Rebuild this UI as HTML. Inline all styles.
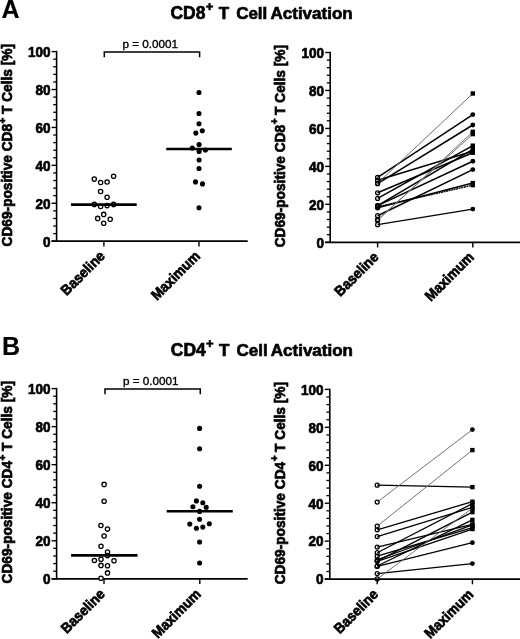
<!DOCTYPE html>
<html><head><meta charset="utf-8"><style>
html,body{margin:0;padding:0;background:#fff;}
svg{display:block;will-change:transform;}
text{font-family:"Liberation Sans",sans-serif;stroke:#000;stroke-width:0.65px;paint-order:stroke;}
</style></head><body>
<svg width="520" height="639" viewBox="0 0 520 639">
<rect width="520" height="639" fill="#fff"/>
<text x="1.4" y="17.8" font-size="25" font-weight="bold" style="stroke-width:0.15px" font-family="'Liberation Sans', sans-serif">A</text>
<text x="2.0" y="354.7" font-size="25" font-weight="bold" style="stroke-width:0.15px" font-family="'Liberation Sans', sans-serif">B</text>
<text x="170.50" y="18.7" font-size="17.45" font-weight="bold" font-family="'Liberation Sans', sans-serif">CD8</text>
<text x="218.75" y="18.7" font-size="17" font-weight="bold" font-family="'Liberation Sans', sans-serif">T</text>
<text x="236.15" y="18.7" font-size="17" font-weight="bold" font-family="'Liberation Sans', sans-serif">Cell</text>
<text x="270.50" y="18.7" font-size="17" font-weight="bold" font-family="'Liberation Sans', sans-serif">Activation</text>
<text x="205.75" y="10.50" font-size="13" font-weight="bold" font-family="'Liberation Sans', sans-serif">+</text>
<text x="170.80" y="355.9" font-size="17.45" font-weight="bold" font-family="'Liberation Sans', sans-serif">CD4</text>
<text x="219.05" y="355.9" font-size="17" font-weight="bold" font-family="'Liberation Sans', sans-serif">T</text>
<text x="236.45" y="355.9" font-size="17" font-weight="bold" font-family="'Liberation Sans', sans-serif">Cell</text>
<text x="270.80" y="355.9" font-size="17" font-weight="bold" font-family="'Liberation Sans', sans-serif">Activation</text>
<text x="206.05" y="347.70" font-size="13" font-weight="bold" font-family="'Liberation Sans', sans-serif">+</text>
<line x1="56.6" y1="50.85" x2="56.6" y2="241.95" stroke="#000" stroke-width="1.6"/>
<line x1="51.6" y1="241.20" x2="56.6" y2="241.20" stroke="#000" stroke-width="1.4"/>
<text transform="translate(50.40,246.50) scale(1,1.07)" text-anchor="end" font-size="13.5" font-weight="bold" font-family="'Liberation Sans', sans-serif">0</text>
<line x1="53.2" y1="233.62" x2="56.6" y2="233.62" stroke="#000" stroke-width="1.3"/>
<line x1="53.2" y1="226.03" x2="56.6" y2="226.03" stroke="#000" stroke-width="1.3"/>
<line x1="53.2" y1="218.45" x2="56.6" y2="218.45" stroke="#000" stroke-width="1.3"/>
<line x1="53.2" y1="210.86" x2="56.6" y2="210.86" stroke="#000" stroke-width="1.3"/>
<line x1="51.6" y1="203.28" x2="56.6" y2="203.28" stroke="#000" stroke-width="1.4"/>
<text transform="translate(50.40,208.58) scale(1,1.07)" text-anchor="end" font-size="13.5" font-weight="bold" font-family="'Liberation Sans', sans-serif">20</text>
<line x1="53.2" y1="195.70" x2="56.6" y2="195.70" stroke="#000" stroke-width="1.3"/>
<line x1="53.2" y1="188.11" x2="56.6" y2="188.11" stroke="#000" stroke-width="1.3"/>
<line x1="53.2" y1="180.53" x2="56.6" y2="180.53" stroke="#000" stroke-width="1.3"/>
<line x1="53.2" y1="172.94" x2="56.6" y2="172.94" stroke="#000" stroke-width="1.3"/>
<line x1="51.6" y1="165.36" x2="56.6" y2="165.36" stroke="#000" stroke-width="1.4"/>
<text transform="translate(50.40,170.66) scale(1,1.07)" text-anchor="end" font-size="13.5" font-weight="bold" font-family="'Liberation Sans', sans-serif">40</text>
<line x1="53.2" y1="157.78" x2="56.6" y2="157.78" stroke="#000" stroke-width="1.3"/>
<line x1="53.2" y1="150.19" x2="56.6" y2="150.19" stroke="#000" stroke-width="1.3"/>
<line x1="53.2" y1="142.61" x2="56.6" y2="142.61" stroke="#000" stroke-width="1.3"/>
<line x1="53.2" y1="135.02" x2="56.6" y2="135.02" stroke="#000" stroke-width="1.3"/>
<line x1="51.6" y1="127.44" x2="56.6" y2="127.44" stroke="#000" stroke-width="1.4"/>
<text transform="translate(50.40,132.74) scale(1,1.07)" text-anchor="end" font-size="13.5" font-weight="bold" font-family="'Liberation Sans', sans-serif">60</text>
<line x1="53.2" y1="119.86" x2="56.6" y2="119.86" stroke="#000" stroke-width="1.3"/>
<line x1="53.2" y1="112.27" x2="56.6" y2="112.27" stroke="#000" stroke-width="1.3"/>
<line x1="53.2" y1="104.69" x2="56.6" y2="104.69" stroke="#000" stroke-width="1.3"/>
<line x1="53.2" y1="97.10" x2="56.6" y2="97.10" stroke="#000" stroke-width="1.3"/>
<line x1="51.6" y1="89.52" x2="56.6" y2="89.52" stroke="#000" stroke-width="1.4"/>
<text transform="translate(50.40,94.82) scale(1,1.07)" text-anchor="end" font-size="13.5" font-weight="bold" font-family="'Liberation Sans', sans-serif">80</text>
<line x1="53.2" y1="81.94" x2="56.6" y2="81.94" stroke="#000" stroke-width="1.3"/>
<line x1="53.2" y1="74.35" x2="56.6" y2="74.35" stroke="#000" stroke-width="1.3"/>
<line x1="53.2" y1="66.77" x2="56.6" y2="66.77" stroke="#000" stroke-width="1.3"/>
<line x1="53.2" y1="59.18" x2="56.6" y2="59.18" stroke="#000" stroke-width="1.3"/>
<line x1="51.6" y1="51.60" x2="56.6" y2="51.60" stroke="#000" stroke-width="1.4"/>
<text transform="translate(50.40,56.90) scale(1,1.07)" text-anchor="end" font-size="13.5" font-weight="bold" font-family="'Liberation Sans', sans-serif">100</text>
<line x1="51.6" y1="241.2" x2="247.7" y2="241.2" stroke="#000" stroke-width="1.8"/>
<line x1="103.9" y1="241.2" x2="103.9" y2="246.39999999999998" stroke="#000" stroke-width="1.4"/>
<line x1="199.0" y1="241.2" x2="199.0" y2="246.39999999999998" stroke="#000" stroke-width="1.4"/>
<text transform="translate(105.80,256.90) rotate(-45) scale(1,1.07)" text-anchor="end" font-size="13.5" font-weight="bold" font-family="'Liberation Sans', sans-serif">Baseline</text>
<text transform="translate(200.90,256.90) rotate(-45) scale(1,1.07)" text-anchor="end" font-size="13.5" font-weight="bold" font-family="'Liberation Sans', sans-serif">Maximum</text>
<line x1="330.2" y1="51.75" x2="330.2" y2="243.05" stroke="#000" stroke-width="1.6"/>
<line x1="325.2" y1="242.30" x2="330.2" y2="242.30" stroke="#000" stroke-width="1.4"/>
<text transform="translate(324.00,247.60) scale(1,1.07)" text-anchor="end" font-size="13.5" font-weight="bold" font-family="'Liberation Sans', sans-serif">0</text>
<line x1="326.8" y1="234.71" x2="330.2" y2="234.71" stroke="#000" stroke-width="1.3"/>
<line x1="326.8" y1="227.12" x2="330.2" y2="227.12" stroke="#000" stroke-width="1.3"/>
<line x1="326.8" y1="219.52" x2="330.2" y2="219.52" stroke="#000" stroke-width="1.3"/>
<line x1="326.8" y1="211.93" x2="330.2" y2="211.93" stroke="#000" stroke-width="1.3"/>
<line x1="325.2" y1="204.34" x2="330.2" y2="204.34" stroke="#000" stroke-width="1.4"/>
<text transform="translate(324.00,209.64) scale(1,1.07)" text-anchor="end" font-size="13.5" font-weight="bold" font-family="'Liberation Sans', sans-serif">20</text>
<line x1="326.8" y1="196.75" x2="330.2" y2="196.75" stroke="#000" stroke-width="1.3"/>
<line x1="326.8" y1="189.16" x2="330.2" y2="189.16" stroke="#000" stroke-width="1.3"/>
<line x1="326.8" y1="181.56" x2="330.2" y2="181.56" stroke="#000" stroke-width="1.3"/>
<line x1="326.8" y1="173.97" x2="330.2" y2="173.97" stroke="#000" stroke-width="1.3"/>
<line x1="325.2" y1="166.38" x2="330.2" y2="166.38" stroke="#000" stroke-width="1.4"/>
<text transform="translate(324.00,171.68) scale(1,1.07)" text-anchor="end" font-size="13.5" font-weight="bold" font-family="'Liberation Sans', sans-serif">40</text>
<line x1="326.8" y1="158.79" x2="330.2" y2="158.79" stroke="#000" stroke-width="1.3"/>
<line x1="326.8" y1="151.20" x2="330.2" y2="151.20" stroke="#000" stroke-width="1.3"/>
<line x1="326.8" y1="143.60" x2="330.2" y2="143.60" stroke="#000" stroke-width="1.3"/>
<line x1="326.8" y1="136.01" x2="330.2" y2="136.01" stroke="#000" stroke-width="1.3"/>
<line x1="325.2" y1="128.42" x2="330.2" y2="128.42" stroke="#000" stroke-width="1.4"/>
<text transform="translate(324.00,133.72) scale(1,1.07)" text-anchor="end" font-size="13.5" font-weight="bold" font-family="'Liberation Sans', sans-serif">60</text>
<line x1="326.8" y1="120.83" x2="330.2" y2="120.83" stroke="#000" stroke-width="1.3"/>
<line x1="326.8" y1="113.24" x2="330.2" y2="113.24" stroke="#000" stroke-width="1.3"/>
<line x1="326.8" y1="105.64" x2="330.2" y2="105.64" stroke="#000" stroke-width="1.3"/>
<line x1="326.8" y1="98.05" x2="330.2" y2="98.05" stroke="#000" stroke-width="1.3"/>
<line x1="325.2" y1="90.46" x2="330.2" y2="90.46" stroke="#000" stroke-width="1.4"/>
<text transform="translate(324.00,95.76) scale(1,1.07)" text-anchor="end" font-size="13.5" font-weight="bold" font-family="'Liberation Sans', sans-serif">80</text>
<line x1="326.8" y1="82.87" x2="330.2" y2="82.87" stroke="#000" stroke-width="1.3"/>
<line x1="326.8" y1="75.28" x2="330.2" y2="75.28" stroke="#000" stroke-width="1.3"/>
<line x1="326.8" y1="67.68" x2="330.2" y2="67.68" stroke="#000" stroke-width="1.3"/>
<line x1="326.8" y1="60.09" x2="330.2" y2="60.09" stroke="#000" stroke-width="1.3"/>
<line x1="325.2" y1="52.50" x2="330.2" y2="52.50" stroke="#000" stroke-width="1.4"/>
<text transform="translate(324.00,57.80) scale(1,1.07)" text-anchor="end" font-size="13.5" font-weight="bold" font-family="'Liberation Sans', sans-serif">100</text>
<line x1="325.2" y1="242.3" x2="520" y2="242.3" stroke="#000" stroke-width="1.8"/>
<line x1="377.6" y1="242.3" x2="377.6" y2="247.5" stroke="#000" stroke-width="1.4"/>
<line x1="472.8" y1="242.3" x2="472.8" y2="247.5" stroke="#000" stroke-width="1.4"/>
<text transform="translate(379.50,258.00) rotate(-45) scale(1,1.07)" text-anchor="end" font-size="13.5" font-weight="bold" font-family="'Liberation Sans', sans-serif">Baseline</text>
<text transform="translate(474.70,258.00) rotate(-45) scale(1,1.07)" text-anchor="end" font-size="13.5" font-weight="bold" font-family="'Liberation Sans', sans-serif">Maximum</text>
<line x1="56.6" y1="387.85" x2="56.6" y2="579.55" stroke="#000" stroke-width="1.6"/>
<line x1="51.6" y1="578.80" x2="56.6" y2="578.80" stroke="#000" stroke-width="1.4"/>
<text transform="translate(50.40,584.10) scale(1,1.07)" text-anchor="end" font-size="13.5" font-weight="bold" font-family="'Liberation Sans', sans-serif">0</text>
<line x1="53.2" y1="571.19" x2="56.6" y2="571.19" stroke="#000" stroke-width="1.3"/>
<line x1="53.2" y1="563.58" x2="56.6" y2="563.58" stroke="#000" stroke-width="1.3"/>
<line x1="53.2" y1="555.98" x2="56.6" y2="555.98" stroke="#000" stroke-width="1.3"/>
<line x1="53.2" y1="548.37" x2="56.6" y2="548.37" stroke="#000" stroke-width="1.3"/>
<line x1="51.6" y1="540.76" x2="56.6" y2="540.76" stroke="#000" stroke-width="1.4"/>
<text transform="translate(50.40,546.06) scale(1,1.07)" text-anchor="end" font-size="13.5" font-weight="bold" font-family="'Liberation Sans', sans-serif">20</text>
<line x1="53.2" y1="533.15" x2="56.6" y2="533.15" stroke="#000" stroke-width="1.3"/>
<line x1="53.2" y1="525.54" x2="56.6" y2="525.54" stroke="#000" stroke-width="1.3"/>
<line x1="53.2" y1="517.94" x2="56.6" y2="517.94" stroke="#000" stroke-width="1.3"/>
<line x1="53.2" y1="510.33" x2="56.6" y2="510.33" stroke="#000" stroke-width="1.3"/>
<line x1="51.6" y1="502.72" x2="56.6" y2="502.72" stroke="#000" stroke-width="1.4"/>
<text transform="translate(50.40,508.02) scale(1,1.07)" text-anchor="end" font-size="13.5" font-weight="bold" font-family="'Liberation Sans', sans-serif">40</text>
<line x1="53.2" y1="495.11" x2="56.6" y2="495.11" stroke="#000" stroke-width="1.3"/>
<line x1="53.2" y1="487.50" x2="56.6" y2="487.50" stroke="#000" stroke-width="1.3"/>
<line x1="53.2" y1="479.90" x2="56.6" y2="479.90" stroke="#000" stroke-width="1.3"/>
<line x1="53.2" y1="472.29" x2="56.6" y2="472.29" stroke="#000" stroke-width="1.3"/>
<line x1="51.6" y1="464.68" x2="56.6" y2="464.68" stroke="#000" stroke-width="1.4"/>
<text transform="translate(50.40,469.98) scale(1,1.07)" text-anchor="end" font-size="13.5" font-weight="bold" font-family="'Liberation Sans', sans-serif">60</text>
<line x1="53.2" y1="457.07" x2="56.6" y2="457.07" stroke="#000" stroke-width="1.3"/>
<line x1="53.2" y1="449.46" x2="56.6" y2="449.46" stroke="#000" stroke-width="1.3"/>
<line x1="53.2" y1="441.86" x2="56.6" y2="441.86" stroke="#000" stroke-width="1.3"/>
<line x1="53.2" y1="434.25" x2="56.6" y2="434.25" stroke="#000" stroke-width="1.3"/>
<line x1="51.6" y1="426.64" x2="56.6" y2="426.64" stroke="#000" stroke-width="1.4"/>
<text transform="translate(50.40,431.94) scale(1,1.07)" text-anchor="end" font-size="13.5" font-weight="bold" font-family="'Liberation Sans', sans-serif">80</text>
<line x1="53.2" y1="419.03" x2="56.6" y2="419.03" stroke="#000" stroke-width="1.3"/>
<line x1="53.2" y1="411.42" x2="56.6" y2="411.42" stroke="#000" stroke-width="1.3"/>
<line x1="53.2" y1="403.82" x2="56.6" y2="403.82" stroke="#000" stroke-width="1.3"/>
<line x1="53.2" y1="396.21" x2="56.6" y2="396.21" stroke="#000" stroke-width="1.3"/>
<line x1="51.6" y1="388.60" x2="56.6" y2="388.60" stroke="#000" stroke-width="1.4"/>
<text transform="translate(50.40,393.90) scale(1,1.07)" text-anchor="end" font-size="13.5" font-weight="bold" font-family="'Liberation Sans', sans-serif">100</text>
<line x1="51.6" y1="578.8" x2="247.7" y2="578.8" stroke="#000" stroke-width="1.8"/>
<line x1="104.0" y1="578.8" x2="104.0" y2="584.0" stroke="#000" stroke-width="1.4"/>
<line x1="199.8" y1="578.8" x2="199.8" y2="584.0" stroke="#000" stroke-width="1.4"/>
<text transform="translate(105.90,595.00) rotate(-45) scale(1,1.07)" text-anchor="end" font-size="13.5" font-weight="bold" font-family="'Liberation Sans', sans-serif">Baseline</text>
<text transform="translate(201.70,595.00) rotate(-45) scale(1,1.07)" text-anchor="end" font-size="13.5" font-weight="bold" font-family="'Liberation Sans', sans-serif">Maximum</text>
<line x1="329.8" y1="388.65" x2="329.8" y2="579.85" stroke="#000" stroke-width="1.6"/>
<line x1="324.8" y1="579.10" x2="329.8" y2="579.10" stroke="#000" stroke-width="1.4"/>
<text transform="translate(323.60,584.40) scale(1,1.07)" text-anchor="end" font-size="13.5" font-weight="bold" font-family="'Liberation Sans', sans-serif">0</text>
<line x1="326.40000000000003" y1="571.51" x2="329.8" y2="571.51" stroke="#000" stroke-width="1.3"/>
<line x1="326.40000000000003" y1="563.92" x2="329.8" y2="563.92" stroke="#000" stroke-width="1.3"/>
<line x1="326.40000000000003" y1="556.34" x2="329.8" y2="556.34" stroke="#000" stroke-width="1.3"/>
<line x1="326.40000000000003" y1="548.75" x2="329.8" y2="548.75" stroke="#000" stroke-width="1.3"/>
<line x1="324.8" y1="541.16" x2="329.8" y2="541.16" stroke="#000" stroke-width="1.4"/>
<text transform="translate(323.60,546.46) scale(1,1.07)" text-anchor="end" font-size="13.5" font-weight="bold" font-family="'Liberation Sans', sans-serif">20</text>
<line x1="326.40000000000003" y1="533.57" x2="329.8" y2="533.57" stroke="#000" stroke-width="1.3"/>
<line x1="326.40000000000003" y1="525.98" x2="329.8" y2="525.98" stroke="#000" stroke-width="1.3"/>
<line x1="326.40000000000003" y1="518.40" x2="329.8" y2="518.40" stroke="#000" stroke-width="1.3"/>
<line x1="326.40000000000003" y1="510.81" x2="329.8" y2="510.81" stroke="#000" stroke-width="1.3"/>
<line x1="324.8" y1="503.22" x2="329.8" y2="503.22" stroke="#000" stroke-width="1.4"/>
<text transform="translate(323.60,508.52) scale(1,1.07)" text-anchor="end" font-size="13.5" font-weight="bold" font-family="'Liberation Sans', sans-serif">40</text>
<line x1="326.40000000000003" y1="495.63" x2="329.8" y2="495.63" stroke="#000" stroke-width="1.3"/>
<line x1="326.40000000000003" y1="488.04" x2="329.8" y2="488.04" stroke="#000" stroke-width="1.3"/>
<line x1="326.40000000000003" y1="480.46" x2="329.8" y2="480.46" stroke="#000" stroke-width="1.3"/>
<line x1="326.40000000000003" y1="472.87" x2="329.8" y2="472.87" stroke="#000" stroke-width="1.3"/>
<line x1="324.8" y1="465.28" x2="329.8" y2="465.28" stroke="#000" stroke-width="1.4"/>
<text transform="translate(323.60,470.58) scale(1,1.07)" text-anchor="end" font-size="13.5" font-weight="bold" font-family="'Liberation Sans', sans-serif">60</text>
<line x1="326.40000000000003" y1="457.69" x2="329.8" y2="457.69" stroke="#000" stroke-width="1.3"/>
<line x1="326.40000000000003" y1="450.10" x2="329.8" y2="450.10" stroke="#000" stroke-width="1.3"/>
<line x1="326.40000000000003" y1="442.52" x2="329.8" y2="442.52" stroke="#000" stroke-width="1.3"/>
<line x1="326.40000000000003" y1="434.93" x2="329.8" y2="434.93" stroke="#000" stroke-width="1.3"/>
<line x1="324.8" y1="427.34" x2="329.8" y2="427.34" stroke="#000" stroke-width="1.4"/>
<text transform="translate(323.60,432.64) scale(1,1.07)" text-anchor="end" font-size="13.5" font-weight="bold" font-family="'Liberation Sans', sans-serif">80</text>
<line x1="326.40000000000003" y1="419.75" x2="329.8" y2="419.75" stroke="#000" stroke-width="1.3"/>
<line x1="326.40000000000003" y1="412.16" x2="329.8" y2="412.16" stroke="#000" stroke-width="1.3"/>
<line x1="326.40000000000003" y1="404.58" x2="329.8" y2="404.58" stroke="#000" stroke-width="1.3"/>
<line x1="326.40000000000003" y1="396.99" x2="329.8" y2="396.99" stroke="#000" stroke-width="1.3"/>
<line x1="324.8" y1="389.40" x2="329.8" y2="389.40" stroke="#000" stroke-width="1.4"/>
<text transform="translate(323.60,394.70) scale(1,1.07)" text-anchor="end" font-size="13.5" font-weight="bold" font-family="'Liberation Sans', sans-serif">100</text>
<line x1="324.8" y1="579.1" x2="520" y2="579.1" stroke="#000" stroke-width="1.8"/>
<line x1="377.2" y1="579.1" x2="377.2" y2="584.3000000000001" stroke="#000" stroke-width="1.4"/>
<line x1="472.4" y1="579.1" x2="472.4" y2="584.3000000000001" stroke="#000" stroke-width="1.4"/>
<text transform="translate(379.10,595.30) rotate(-45) scale(1,1.07)" text-anchor="end" font-size="13.5" font-weight="bold" font-family="'Liberation Sans', sans-serif">Baseline</text>
<text transform="translate(474.30,595.30) rotate(-45) scale(1,1.07)" text-anchor="end" font-size="13.5" font-weight="bold" font-family="'Liberation Sans', sans-serif">Maximum</text>
<text transform="translate(12.20,246.40) rotate(-90) scale(1,1.07)" font-size="13.7" font-weight="bold" font-family="'Liberation Sans', sans-serif">CD69-positive CD8</text>
<text transform="translate(5.60,123.40) rotate(-90)" font-size="10" font-weight="bold" font-family="'Liberation Sans', sans-serif">+</text>
<text transform="translate(12.20,114.00) rotate(-90) scale(1,1.07)" font-size="13.7" font-weight="bold" font-family="'Liberation Sans', sans-serif">T Cells [%]</text>
<text transform="translate(285.00,247.30) rotate(-90) scale(1,1.07)" font-size="13.7" font-weight="bold" font-family="'Liberation Sans', sans-serif">CD69-positive CD8</text>
<text transform="translate(278.40,124.30) rotate(-90)" font-size="10" font-weight="bold" font-family="'Liberation Sans', sans-serif">+</text>
<text transform="translate(285.00,114.90) rotate(-90) scale(1,1.07)" font-size="13.7" font-weight="bold" font-family="'Liberation Sans', sans-serif">T Cells [%]</text>
<text transform="translate(12.20,583.40) rotate(-90) scale(1,1.07)" font-size="13.7" font-weight="bold" font-family="'Liberation Sans', sans-serif">CD69-positive CD4</text>
<text transform="translate(5.60,460.40) rotate(-90)" font-size="10" font-weight="bold" font-family="'Liberation Sans', sans-serif">+</text>
<text transform="translate(12.20,451.00) rotate(-90) scale(1,1.07)" font-size="13.7" font-weight="bold" font-family="'Liberation Sans', sans-serif">T Cells [%]</text>
<text transform="translate(285.00,584.30) rotate(-90) scale(1,1.07)" font-size="13.7" font-weight="bold" font-family="'Liberation Sans', sans-serif">CD69-positive CD4</text>
<text transform="translate(278.40,461.30) rotate(-90)" font-size="10" font-weight="bold" font-family="'Liberation Sans', sans-serif">+</text>
<text transform="translate(285.00,451.90) rotate(-90) scale(1,1.07)" font-size="13.7" font-weight="bold" font-family="'Liberation Sans', sans-serif">T Cells [%]</text>
<polyline points="104.3,57.3 104.3,51.9 199.6,51.9 199.6,57.3" fill="none" stroke="#000" stroke-width="1.5"/>
<text x="122.5" y="48.0" font-size="11.7" style="stroke-width:0.35px" font-family="'Liberation Sans', sans-serif">p = 0.0001</text>
<polyline points="105.0,394.3 105.0,388.9 200.3,388.9 200.3,394.3" fill="none" stroke="#000" stroke-width="1.5"/>
<text x="122.9" y="385.0" font-size="11.7" style="stroke-width:0.35px" font-family="'Liberation Sans', sans-serif">p = 0.0001</text>
<circle cx="94.30" cy="179.10" r="2.15" fill="#fff" stroke="#000" stroke-width="1.3"/>
<circle cx="100.60" cy="182.50" r="2.15" fill="#fff" stroke="#000" stroke-width="1.3"/>
<circle cx="107.10" cy="182.00" r="2.15" fill="#fff" stroke="#000" stroke-width="1.3"/>
<circle cx="113.60" cy="176.20" r="2.15" fill="#fff" stroke="#000" stroke-width="1.3"/>
<circle cx="100.60" cy="191.50" r="2.15" fill="#fff" stroke="#000" stroke-width="1.3"/>
<circle cx="107.10" cy="197.30" r="2.15" fill="#fff" stroke="#000" stroke-width="1.3"/>
<circle cx="94.30" cy="204.40" r="2.15" fill="#fff" stroke="#000" stroke-width="1.3"/>
<circle cx="100.60" cy="206.50" r="2.15" fill="#fff" stroke="#000" stroke-width="1.3"/>
<circle cx="107.10" cy="205.60" r="2.15" fill="#fff" stroke="#000" stroke-width="1.3"/>
<circle cx="113.60" cy="204.40" r="2.15" fill="#fff" stroke="#000" stroke-width="1.3"/>
<circle cx="103.70" cy="214.40" r="2.15" fill="#fff" stroke="#000" stroke-width="1.3"/>
<circle cx="97.70" cy="218.40" r="2.15" fill="#fff" stroke="#000" stroke-width="1.3"/>
<circle cx="110.20" cy="219.20" r="2.15" fill="#fff" stroke="#000" stroke-width="1.3"/>
<circle cx="103.70" cy="223.30" r="2.15" fill="#fff" stroke="#000" stroke-width="1.3"/>
<circle cx="104.10" cy="484.40" r="2.15" fill="#fff" stroke="#000" stroke-width="1.3"/>
<circle cx="104.10" cy="501.30" r="2.15" fill="#fff" stroke="#000" stroke-width="1.3"/>
<circle cx="100.90" cy="525.50" r="2.15" fill="#fff" stroke="#000" stroke-width="1.3"/>
<circle cx="107.50" cy="529.10" r="2.15" fill="#fff" stroke="#000" stroke-width="1.3"/>
<circle cx="104.10" cy="536.00" r="2.15" fill="#fff" stroke="#000" stroke-width="1.3"/>
<circle cx="101.00" cy="546.30" r="2.15" fill="#fff" stroke="#000" stroke-width="1.3"/>
<circle cx="107.50" cy="552.10" r="2.15" fill="#fff" stroke="#000" stroke-width="1.3"/>
<circle cx="107.50" cy="555.60" r="2.15" fill="#fff" stroke="#000" stroke-width="1.3"/>
<circle cx="101.00" cy="559.20" r="2.15" fill="#fff" stroke="#000" stroke-width="1.3"/>
<circle cx="94.40" cy="560.50" r="2.15" fill="#fff" stroke="#000" stroke-width="1.3"/>
<circle cx="114.00" cy="560.70" r="2.15" fill="#fff" stroke="#000" stroke-width="1.3"/>
<circle cx="101.00" cy="565.40" r="2.15" fill="#fff" stroke="#000" stroke-width="1.3"/>
<circle cx="107.50" cy="565.80" r="2.15" fill="#fff" stroke="#000" stroke-width="1.3"/>
<circle cx="107.50" cy="572.90" r="2.15" fill="#fff" stroke="#000" stroke-width="1.3"/>
<circle cx="101.00" cy="578.30" r="2.15" fill="#fff" stroke="#000" stroke-width="1.3"/>
<circle cx="199.00" cy="92.50" r="2.55" fill="#000"/>
<circle cx="199.00" cy="113.50" r="2.55" fill="#000"/>
<circle cx="199.00" cy="123.80" r="2.55" fill="#000"/>
<circle cx="195.80" cy="133.10" r="2.55" fill="#000"/>
<circle cx="202.30" cy="130.80" r="2.55" fill="#000"/>
<circle cx="199.10" cy="144.60" r="2.55" fill="#000"/>
<circle cx="192.30" cy="148.10" r="2.55" fill="#000"/>
<circle cx="205.40" cy="150.00" r="2.55" fill="#000"/>
<circle cx="199.10" cy="151.50" r="2.55" fill="#000"/>
<circle cx="199.10" cy="160.00" r="2.55" fill="#000"/>
<circle cx="199.00" cy="168.50" r="2.55" fill="#000"/>
<circle cx="195.50" cy="181.90" r="2.55" fill="#000"/>
<circle cx="202.50" cy="183.90" r="2.55" fill="#000"/>
<circle cx="199.00" cy="207.80" r="2.55" fill="#000"/>
<circle cx="199.60" cy="428.40" r="2.55" fill="#000"/>
<circle cx="199.60" cy="448.75" r="2.55" fill="#000"/>
<circle cx="199.60" cy="486.25" r="2.55" fill="#000"/>
<circle cx="196.40" cy="500.90" r="2.55" fill="#000"/>
<circle cx="202.80" cy="502.80" r="2.55" fill="#000"/>
<circle cx="192.90" cy="506.70" r="2.55" fill="#000"/>
<circle cx="206.20" cy="507.40" r="2.55" fill="#000"/>
<circle cx="199.60" cy="511.40" r="2.55" fill="#000"/>
<circle cx="199.60" cy="519.30" r="2.55" fill="#000"/>
<circle cx="189.80" cy="524.10" r="2.55" fill="#000"/>
<circle cx="209.30" cy="523.70" r="2.55" fill="#000"/>
<circle cx="196.40" cy="528.30" r="2.55" fill="#000"/>
<circle cx="202.80" cy="527.10" r="2.55" fill="#000"/>
<circle cx="199.60" cy="542.00" r="2.55" fill="#000"/>
<circle cx="199.60" cy="563.00" r="2.55" fill="#000"/>
<line x1="71.0" y1="204.6" x2="136.7" y2="204.6" stroke="#000" stroke-width="2.6"/>
<line x1="166.2" y1="149.0" x2="231.8" y2="149.0" stroke="#000" stroke-width="2.6"/>
<line x1="71.1" y1="555.4" x2="137.5" y2="555.4" stroke="#000" stroke-width="2.6"/>
<line x1="166.7" y1="511.2" x2="232.8" y2="511.2" stroke="#000" stroke-width="2.6"/>
<line x1="377.6" y1="177.39" x2="472.8" y2="114.56" stroke="#000" stroke-width="1.5"/>
<line x1="377.6" y1="180.24" x2="472.8" y2="151.20" stroke="#000" stroke-width="1.5"/>
<line x1="377.6" y1="183.27" x2="472.8" y2="93.50" stroke="#6a6a6a" stroke-width="0.95"/>
<line x1="377.6" y1="183.65" x2="472.8" y2="125.00" stroke="#000" stroke-width="1.5"/>
<line x1="377.6" y1="192.76" x2="472.8" y2="152.71" stroke="#000" stroke-width="1.5"/>
<line x1="377.6" y1="198.46" x2="472.8" y2="145.69" stroke="#000" stroke-width="1.5"/>
<line x1="377.6" y1="205.67" x2="472.8" y2="149.30" stroke="#000" stroke-width="1.5"/>
<line x1="377.6" y1="205.67" x2="472.8" y2="161.26" stroke="#000" stroke-width="1.5"/>
<line x1="377.6" y1="206.81" x2="472.8" y2="185.17" stroke="#000" stroke-width="1.4" stroke-dasharray="2,0.6"/>
<line x1="377.6" y1="207.76" x2="472.8" y2="183.08" stroke="#000" stroke-width="1.5"/>
<line x1="377.6" y1="215.73" x2="472.8" y2="169.61" stroke="#000" stroke-width="1.5"/>
<line x1="377.6" y1="219.71" x2="472.8" y2="134.11" stroke="#6a6a6a" stroke-width="0.95"/>
<line x1="377.6" y1="220.47" x2="472.8" y2="131.84" stroke="#6a6a6a" stroke-width="0.95"/>
<line x1="377.6" y1="224.65" x2="472.8" y2="209.09" stroke="#000" stroke-width="1.2"/>
<circle cx="377.60" cy="177.39" r="2.0" fill="none" stroke="#000" stroke-width="1.25"/>
<circle cx="472.80" cy="114.56" r="2.4" fill="#000"/>
<circle cx="377.60" cy="180.24" r="2.0" fill="none" stroke="#000" stroke-width="1.25"/>
<rect x="470.60" y="149.00" width="4.4" height="4.4" fill="#000"/>
<circle cx="377.60" cy="183.27" r="2.0" fill="none" stroke="#000" stroke-width="1.25"/>
<rect x="470.60" y="91.30" width="4.4" height="4.4" fill="#000"/>
<circle cx="377.60" cy="183.65" r="2.0" fill="none" stroke="#000" stroke-width="1.25"/>
<circle cx="472.80" cy="125.00" r="2.4" fill="#000"/>
<circle cx="377.60" cy="192.76" r="2.0" fill="none" stroke="#000" stroke-width="1.25"/>
<rect x="470.60" y="150.51" width="4.4" height="4.4" fill="#000"/>
<circle cx="377.60" cy="198.46" r="2.0" fill="none" stroke="#000" stroke-width="1.25"/>
<rect x="470.60" y="143.49" width="4.4" height="4.4" fill="#000"/>
<circle cx="377.60" cy="205.67" r="2.0" fill="none" stroke="#000" stroke-width="1.25"/>
<rect x="470.60" y="147.10" width="4.4" height="4.4" fill="#000"/>
<circle cx="377.60" cy="205.67" r="2.0" fill="none" stroke="#000" stroke-width="1.25"/>
<circle cx="472.80" cy="161.26" r="2.4" fill="#000"/>
<circle cx="377.60" cy="206.81" r="2.0" fill="none" stroke="#000" stroke-width="1.25"/>
<rect x="470.60" y="182.97" width="4.4" height="4.4" fill="#000"/>
<circle cx="377.60" cy="207.76" r="2.0" fill="none" stroke="#000" stroke-width="1.25"/>
<rect x="470.60" y="180.88" width="4.4" height="4.4" fill="#000"/>
<circle cx="377.60" cy="215.73" r="2.0" fill="none" stroke="#000" stroke-width="1.25"/>
<circle cx="472.80" cy="169.61" r="2.4" fill="#000"/>
<circle cx="377.60" cy="219.71" r="2.0" fill="none" stroke="#000" stroke-width="1.25"/>
<rect x="470.60" y="131.91" width="4.4" height="4.4" fill="#000"/>
<circle cx="377.60" cy="220.47" r="2.0" fill="none" stroke="#000" stroke-width="1.25"/>
<rect x="470.60" y="129.64" width="4.4" height="4.4" fill="#000"/>
<circle cx="377.60" cy="224.65" r="2.0" fill="none" stroke="#000" stroke-width="1.25"/>
<circle cx="472.80" cy="209.09" r="2.4" fill="#000"/>
<line x1="377.2" y1="485.20" x2="472.4" y2="487.10" stroke="#000" stroke-width="1.3"/>
<line x1="377.2" y1="502.08" x2="472.4" y2="429.62" stroke="#6a6a6a" stroke-width="0.95"/>
<line x1="377.2" y1="526.17" x2="472.4" y2="450.10" stroke="#6a6a6a" stroke-width="0.95"/>
<line x1="377.2" y1="529.78" x2="472.4" y2="501.70" stroke="#000" stroke-width="1.3"/>
<line x1="377.2" y1="536.61" x2="472.4" y2="507.39" stroke="#000" stroke-width="1.3"/>
<line x1="377.2" y1="547.04" x2="472.4" y2="524.47" stroke="#000" stroke-width="1.3"/>
<line x1="377.2" y1="552.73" x2="472.4" y2="503.60" stroke="#000" stroke-width="1.3"/>
<line x1="377.2" y1="556.15" x2="472.4" y2="527.69" stroke="#000" stroke-width="1.3"/>
<line x1="377.2" y1="559.75" x2="472.4" y2="524.85" stroke="#000" stroke-width="1.3"/>
<line x1="377.2" y1="561.08" x2="472.4" y2="512.14" stroke="#000" stroke-width="1.3"/>
<line x1="377.2" y1="561.27" x2="472.4" y2="529.02" stroke="#000" stroke-width="1.3"/>
<line x1="377.2" y1="566.01" x2="472.4" y2="519.91" stroke="#000" stroke-width="1.3"/>
<line x1="377.2" y1="566.39" x2="472.4" y2="542.68" stroke="#000" stroke-width="1.3"/>
<line x1="377.2" y1="573.60" x2="472.4" y2="563.54" stroke="#000" stroke-width="1.2"/>
<line x1="377.2" y1="578.91" x2="472.4" y2="508.15" stroke="#6a6a6a" stroke-width="0.95"/>
<circle cx="377.20" cy="485.20" r="2.0" fill="none" stroke="#000" stroke-width="1.25"/>
<rect x="470.20" y="484.90" width="4.4" height="4.4" fill="#000"/>
<circle cx="377.20" cy="502.08" r="2.0" fill="none" stroke="#000" stroke-width="1.25"/>
<circle cx="472.40" cy="429.62" r="2.4" fill="#000"/>
<circle cx="377.20" cy="526.17" r="2.0" fill="none" stroke="#000" stroke-width="1.25"/>
<rect x="470.20" y="447.90" width="4.4" height="4.4" fill="#000"/>
<circle cx="377.20" cy="529.78" r="2.0" fill="none" stroke="#000" stroke-width="1.25"/>
<rect x="470.20" y="499.50" width="4.4" height="4.4" fill="#000"/>
<circle cx="377.20" cy="536.61" r="2.0" fill="none" stroke="#000" stroke-width="1.25"/>
<rect x="470.20" y="505.19" width="4.4" height="4.4" fill="#000"/>
<circle cx="377.20" cy="547.04" r="2.0" fill="none" stroke="#000" stroke-width="1.25"/>
<rect x="470.20" y="522.27" width="4.4" height="4.4" fill="#000"/>
<circle cx="377.20" cy="552.73" r="2.0" fill="none" stroke="#000" stroke-width="1.25"/>
<rect x="470.20" y="501.40" width="4.4" height="4.4" fill="#000"/>
<circle cx="377.20" cy="556.15" r="2.0" fill="none" stroke="#000" stroke-width="1.25"/>
<rect x="470.20" y="525.49" width="4.4" height="4.4" fill="#000"/>
<circle cx="377.20" cy="559.75" r="2.0" fill="none" stroke="#000" stroke-width="1.25"/>
<rect x="470.20" y="522.65" width="4.4" height="4.4" fill="#000"/>
<circle cx="377.20" cy="561.08" r="2.0" fill="none" stroke="#000" stroke-width="1.25"/>
<rect x="470.20" y="509.94" width="4.4" height="4.4" fill="#000"/>
<circle cx="377.20" cy="561.27" r="2.0" fill="none" stroke="#000" stroke-width="1.25"/>
<rect x="470.20" y="526.82" width="4.4" height="4.4" fill="#000"/>
<circle cx="377.20" cy="566.01" r="2.0" fill="none" stroke="#000" stroke-width="1.25"/>
<rect x="470.20" y="517.71" width="4.4" height="4.4" fill="#000"/>
<circle cx="377.20" cy="566.39" r="2.0" fill="none" stroke="#000" stroke-width="1.25"/>
<circle cx="472.40" cy="542.68" r="2.4" fill="#000"/>
<circle cx="377.20" cy="573.60" r="2.0" fill="none" stroke="#000" stroke-width="1.25"/>
<circle cx="472.40" cy="563.54" r="2.4" fill="#000"/>
<circle cx="377.20" cy="578.91" r="2.0" fill="none" stroke="#000" stroke-width="1.25"/>
<rect x="470.20" y="505.95" width="4.4" height="4.4" fill="#000"/>
</svg>
</body></html>
